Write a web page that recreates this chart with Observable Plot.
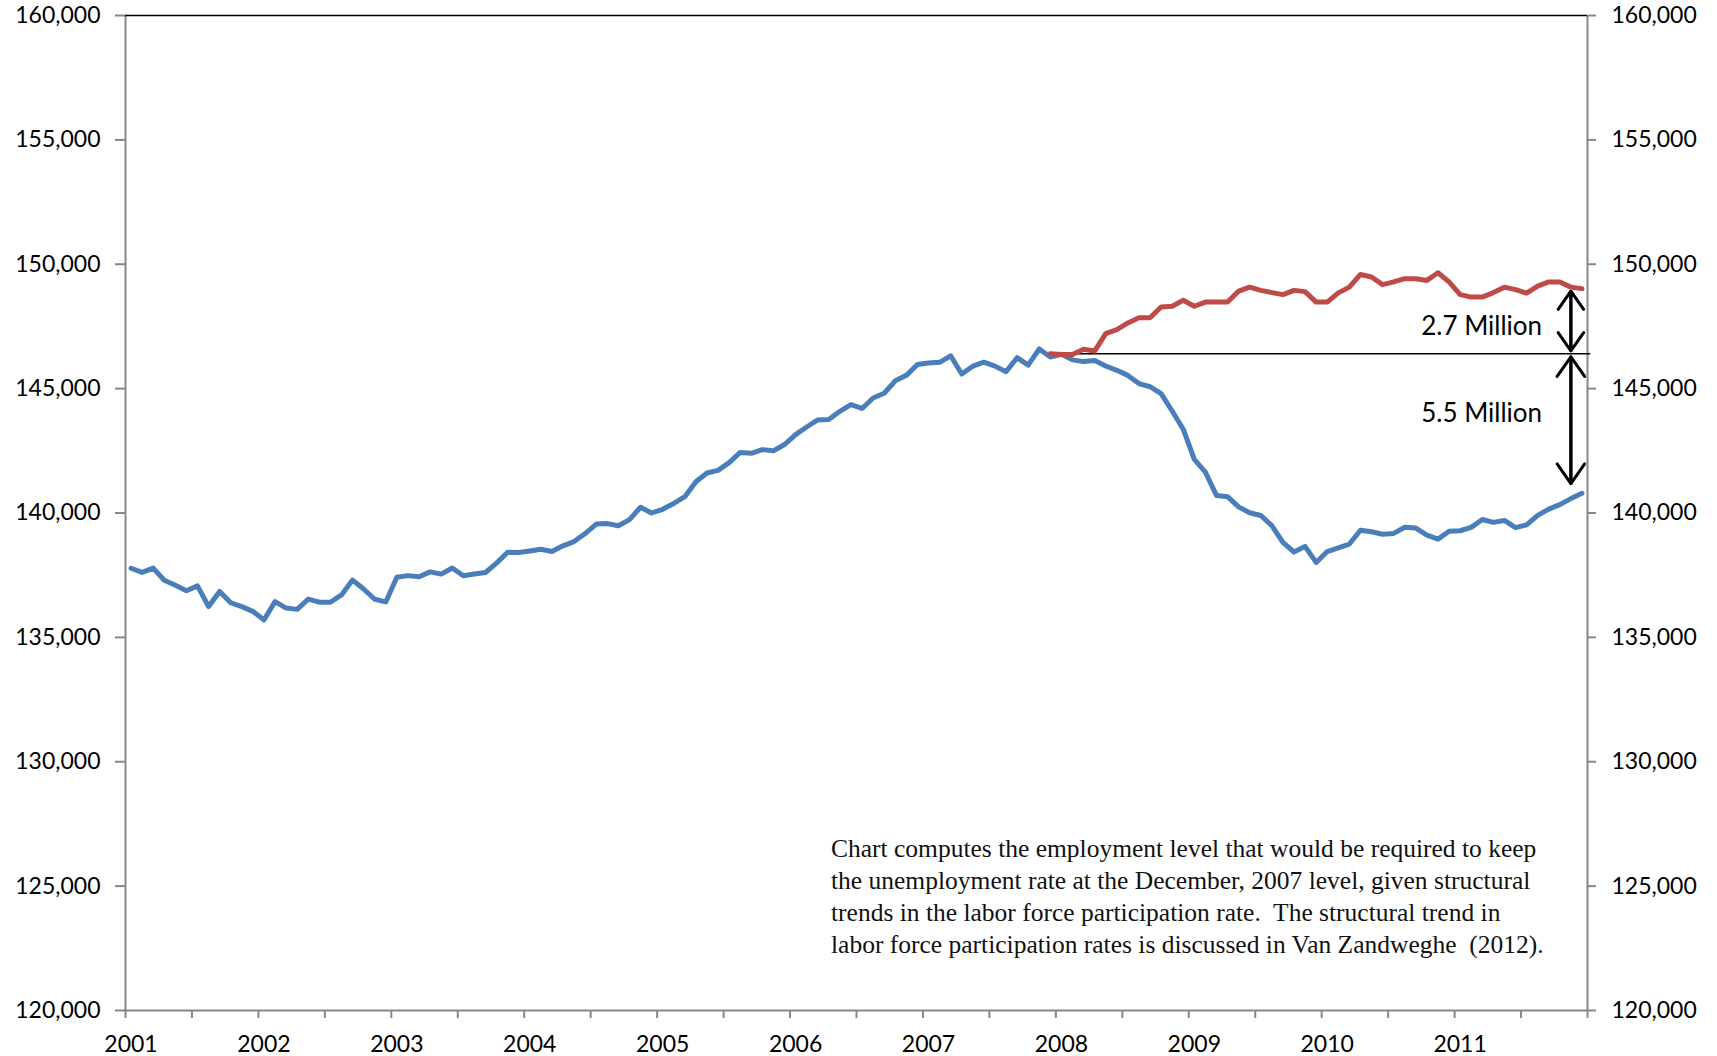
<!DOCTYPE html>
<html>
<head>
<meta charset="utf-8">
<script src="https://cdn.jsdelivr.net/npm/d3@7"></script>
<script src="https://cdn.jsdelivr.net/npm/@observablehq/plot@0.6"></script>
<style>
  html, body { margin: 0; padding: 0; background: #fff; }
  #chart svg { display: block; }
</style>
</head>
<body>
<div id="chart"></div>
<script>
// Monthly employment level (thousands), Jan 2001 – Dec 2011
const employment = [
  137778, 137612, 137783, 137299, 137092, 136873, 137071, 136241, 136846, 136392, 136238, 136047,
  135701, 136438, 136177, 136126, 136539, 136415, 136413, 136705, 137302, 136945, 136531, 136426,
  137417, 137482, 137434, 137633, 137544, 137790, 137474, 137549, 137609, 137984, 138424, 138411,
  138472, 138542, 138453, 138680, 138852, 139174, 139556, 139573, 139487, 139732, 140231, 140000,
  140150, 140385, 140654, 141254, 141609, 141714, 142026, 142434, 142401, 142548, 142499, 142752,
  143150, 143457, 143741, 143761, 144089, 144353, 144202, 144625, 144815, 145314, 145534, 145970,
  146028, 146057, 146320, 145586, 145903, 146063, 145905, 145682, 146244, 145946, 146595, 146273,
  146378, 146156, 146086, 146132, 145908, 145737, 145532, 145203, 145076, 144802, 144100, 143369,
  142152, 141640, 140707, 140656, 140248, 140009, 139901, 139492, 138818, 138432, 138659, 138013,
  138451, 138599, 138752, 139309, 139247, 139148, 139179, 139427, 139393, 139111, 138950, 139266,
  139287, 139422, 139740, 139622, 139700, 139409, 139524, 139904, 140154, 140335, 140580, 140790
];

// Employment required to keep Dec 2007 unemployment rate, Dec 2007 – Dec 2011
const requiredStartMonth = 83; // Dec 2007 (month index from Jan 2001)
const required = [
  146400,
  146370, 146370, 146580, 146510, 147210, 147370, 147640, 147850, 147850, 148280, 148310, 148550,
  148310, 148480, 148480, 148480, 148920, 149080, 148950, 148860, 148780, 148950, 148900, 148480,
  148480, 148850, 149080, 149590, 149490, 149180, 149290, 149420, 149420, 149350, 149660, 149290,
  148780, 148680, 148680, 148860, 149080, 148980, 148840, 149120, 149290, 149290, 149080, 149020
];

const dec2007Level = 146400;
const yTicks = [120000, 125000, 130000, 135000, 140000, 145000, 150000, 155000, 160000];
const yearLabels = ["2001", "2002", "2003", "2004", "2005", "2006", "2007", "2008", "2009", "2010", "2011"];
const gapLabels = ["2.7 Million", "5.5 Million"];
const gapLabelValues = [147500, 144000];
const captionLines = [
  "Chart computes the employment level that would be required to keep",
  "the unemployment rate at the December, 2007 level, given structural",
  "trends in the labor force participation rate.  The structural trend in",
  "labor force participation rates is discussed in Van Zandweghe  (2012)."
];

const nMonths = employment.length;
const actualData = employment.map((v, i) => ({m: i, v}));
const requiredData = required.map((v, i) => ({m: requiredStartMonth + i, v}));
const labelData = gapLabels.map((label, i) => ({label, v: gapLabelValues[i]}));
const arrowMonth = nMonths - 2;
const redAtArrow = required[arrowMonth - requiredStartMonth];
const blueAtArrow = employment[arrowMonth];

const gray = "#878787";
const fmt = d3.format(",");
const arrowStyle = {stroke: "black", strokeWidth: 3, headLength: 12, headAngle: 70};

const chart = Plot.plot({
  width: 1717,
  height: 1056,
  marginLeft: 125,
  marginRight: 130,
  marginTop: 15,
  marginBottom: 46,
  style: {fontFamily: "Lato, 'Open Sans', sans-serif", background: "white", color: "black", overflow: "visible"},
  x: {domain: [-0.5, nMonths - 0.5], axis: null},
  y: {domain: [120000, 160000], axis: null},
  marks: [
    Plot.axisY({anchor: "left", label: null, ticks: yTicks, tickFormat: fmt, tickSize: 10, tickPadding: 15, fontSize: 23, stroke: gray, strokeWidth: 2, fill: "black"}),
    Plot.axisY({anchor: "right", label: null, ticks: yTicks, tickFormat: fmt, tickSize: 8, tickPadding: 16, fontSize: 23, stroke: gray, strokeWidth: 2, fill: "black"}),
    Plot.axisX({anchor: "bottom", label: null, ticks: d3.range(-0.5, nMonths, 6), tickFormat: () => "", tickSize: 8, stroke: gray, strokeWidth: 2}),
    Plot.axisX({anchor: "bottom", label: null, ticks: yearLabels.map((_, i) => i * 12), tickFormat: d => yearLabels[Math.round(d / 12)], tickSize: 0, tickPadding: 25, fontSize: 23, fill: "black"}),
    Plot.ruleX([-0.5, nMonths - 0.5], {stroke: gray, strokeWidth: 2}),
    Plot.ruleY([120000], {stroke: gray, strokeWidth: 2}),
    Plot.ruleY([160000], {stroke: "black", strokeWidth: 1.5}),
    Plot.ruleY([dec2007Level], {x1: requiredStartMonth, x2: nMonths - 0.2, stroke: "black", strokeWidth: 1.5}),
    Plot.line(actualData, {x: "m", y: "v", stroke: "#4A7EBB", strokeWidth: 5, strokeLinejoin: "round"}),
    Plot.line(requiredData, {x: "m", y: "v", stroke: "#BE4B48", strokeWidth: 5, strokeLinejoin: "round"}),
    // upper double arrow (2.7 million)
    Plot.arrow([0], {x1: arrowMonth, x2: arrowMonth, y1: dec2007Level, y2: redAtArrow, insetStart: 3, insetEnd: 4, ...arrowStyle}),
    Plot.arrow([0], {x1: arrowMonth, x2: arrowMonth, y1: redAtArrow, y2: dec2007Level, insetStart: 4, insetEnd: 3, ...arrowStyle}),
    // lower double arrow (5.5 million)
    Plot.arrow([0], {x1: arrowMonth, x2: arrowMonth, y1: blueAtArrow, y2: dec2007Level, insetStart: 15, insetEnd: 3, ...arrowStyle}),
    Plot.arrow([0], {x1: arrowMonth, x2: arrowMonth, y1: dec2007Level, y2: blueAtArrow, insetStart: 3, insetEnd: 15, ...arrowStyle}),
    Plot.text(labelData, {x: nMonths - 4.6, y: "v", text: "label", textAnchor: "end", fontSize: 26, fill: "black"}),
    Plot.text([captionLines.join("\n")], {x: 63.2, y: 124655, text: d => d, textAnchor: "start", lineAnchor: "middle", lineHeight: 32 / 25.5, fontSize: 25.5, fontFamily: "'Liberation Serif', serif", fill: "#111"})
  ]
});

document.getElementById("chart").appendChild(chart);
</script>
</body>
</html>
